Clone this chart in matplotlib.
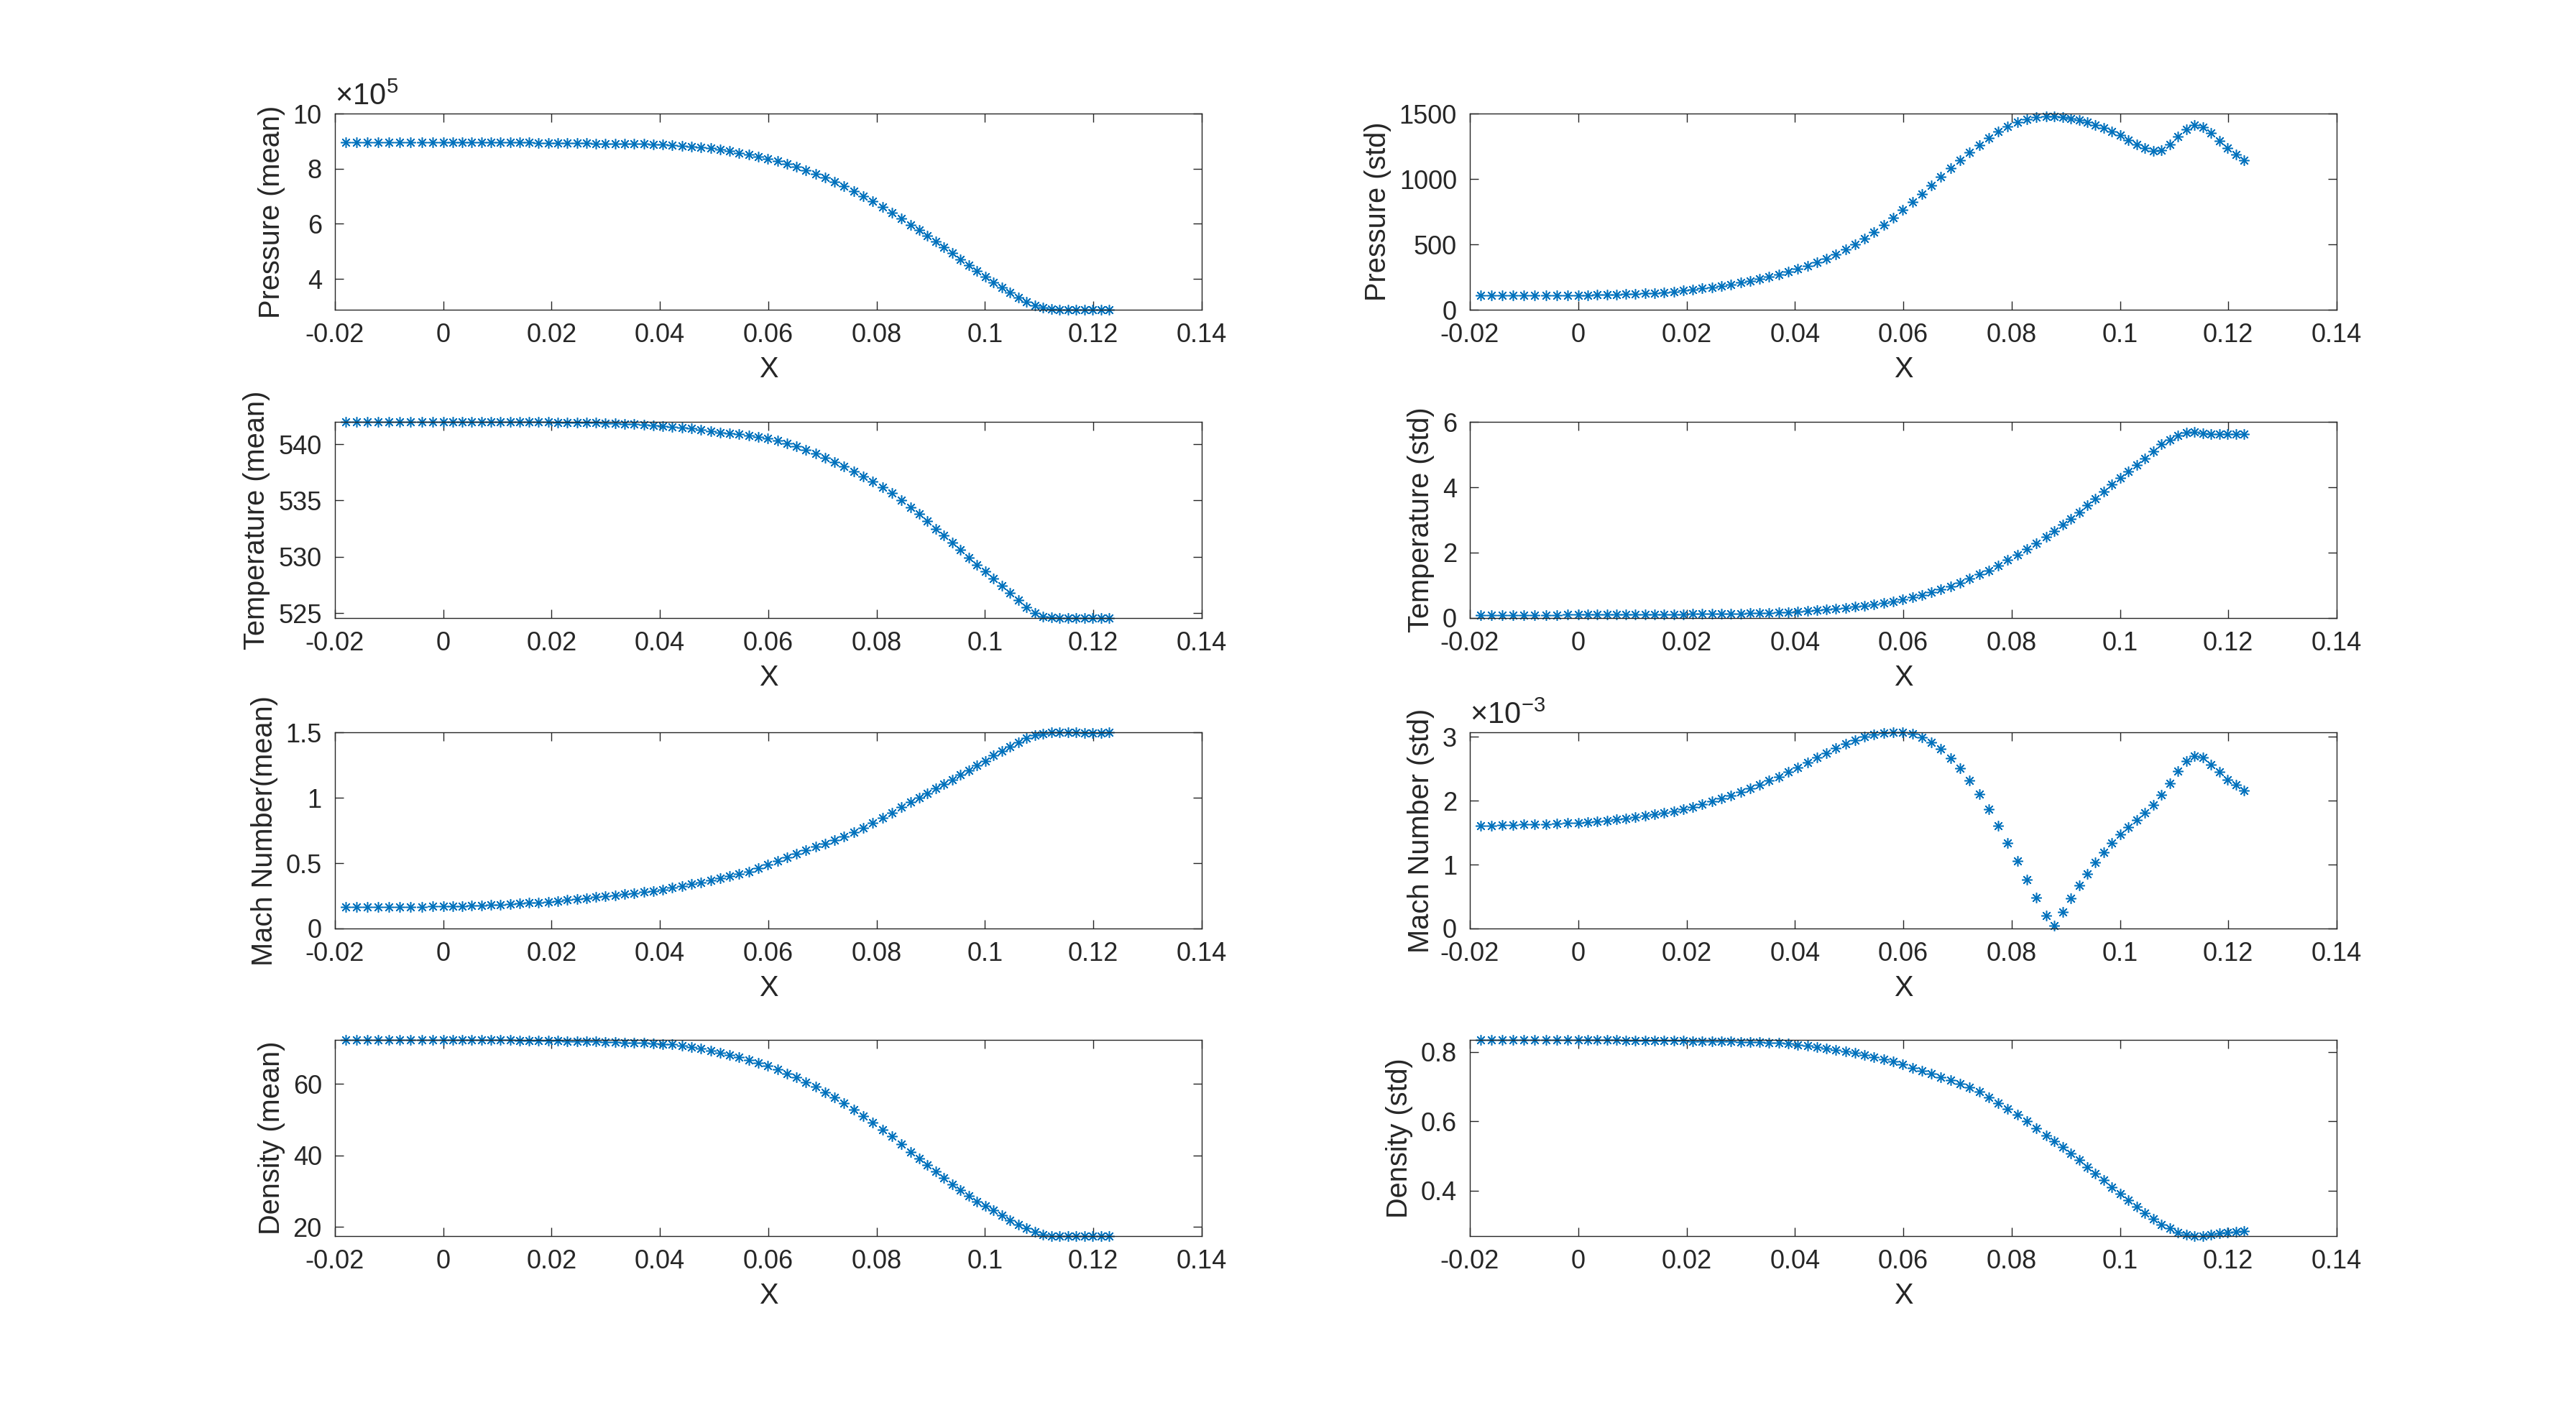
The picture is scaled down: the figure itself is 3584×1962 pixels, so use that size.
import numpy as np
import matplotlib
matplotlib.use("Agg")
import matplotlib.pyplot as plt
from matplotlib.ticker import FuncFormatter

plt.rcParams['font.family'] = ['Liberation Sans', 'DejaVu Sans']
plt.rcParams['mathtext.fontset'] = 'custom'
plt.rcParams['mathtext.rm'] = 'Liberation Sans'
plt.rcParams['mathtext.it'] = 'Liberation Sans'

# x positions of the nodes
x_nodes = [-0.018, -0.016, -0.014, -0.012, -0.010, -0.008, -0.006, -0.004, -0.002, 0.0,
           0.00176, 0.00352, 0.00528, 0.00705, 0.00881, 0.01057, 0.01233, 0.01409, 0.01586, 0.01762,
           0.01938, 0.02114, 0.02290, 0.02467, 0.02643, 0.02819, 0.02995, 0.03171, 0.03348, 0.03524,
           0.03700, 0.03876, 0.04052, 0.04229, 0.04405, 0.04581, 0.04757, 0.04933, 0.05110, 0.05286,
           0.05462, 0.05638, 0.05814, 0.05991, 0.06167, 0.06343, 0.06519, 0.06695, 0.06872, 0.07048,
           0.07224, 0.07400, 0.07576, 0.07753, 0.07929, 0.08105, 0.08281, 0.08457, 0.08634,
           0.08786, 0.08939, 0.09091, 0.09244, 0.09396, 0.09548, 0.09701, 0.09853, 0.10006, 0.10158,
           0.10311, 0.10463, 0.10615, 0.10768, 0.10920, 0.11073, 0.11225, 0.11378, 0.11530, 0.11683,
           0.11835, 0.11987, 0.12140, 0.12292]

# pressure mean, in units of 1e5
pressure_mean = [8.97, 8.97, 8.97, 8.97, 8.97, 8.97, 8.97, 8.97, 8.97, 8.97,
                 8.97, 8.97, 8.965, 8.96, 8.96, 8.955, 8.955, 8.95, 8.95, 8.945,
                 8.945, 8.94, 8.935, 8.93, 8.925, 8.92, 8.915, 8.91, 8.905, 8.90,
                 8.895, 8.89, 8.88, 8.86, 8.84, 8.81, 8.78, 8.74, 8.69, 8.64,
                 8.58, 8.51, 8.44, 8.36, 8.27, 8.17, 8.06, 7.94, 7.81, 7.67,
                 7.52, 7.36, 7.19, 7.01, 6.82, 6.62, 6.41, 6.19, 5.96,
                 5.78, 5.57, 5.36, 5.14, 4.93, 4.71, 4.50, 4.29, 4.08, 3.88,
                 3.68, 3.50, 3.33, 3.17, 3.04, 2.95, 2.90, 2.88, 2.88, 2.88,
                 2.885, 2.885, 2.89, 2.89]

pressure_std = [110, 110, 110, 110, 110, 110, 110, 110, 111, 111,
                112, 114, 115, 117, 119, 121, 125, 128, 134, 139,
                147, 154, 163, 172, 183, 195, 207, 220, 235, 251,
                270, 290, 312, 336, 361, 390, 424, 460, 500, 546,
                596, 650, 705, 762, 822, 885, 950, 1016, 1082, 1145,
                1205, 1260, 1313, 1362, 1403, 1436, 1458, 1472, 1478,
                1478, 1472, 1463, 1450, 1436, 1414, 1390, 1362, 1335, 1298,
                1267, 1238, 1216, 1220, 1267, 1326, 1381, 1414, 1399, 1353,
                1293, 1238, 1188, 1146]

temperature_mean = [541.98, 541.98, 541.98, 541.98, 541.98, 541.98, 541.98, 541.98, 541.98, 541.98,
                    541.98, 541.98, 541.98, 541.98, 541.98, 541.98, 541.97, 541.97, 541.97, 541.97,
                    541.96, 541.95, 541.94, 541.93, 541.91, 541.89, 541.87, 541.84, 541.81, 541.77,
                    541.73, 541.68, 541.62, 541.55, 541.47, 541.38, 541.28, 541.17, 541.05, 540.95,
                    540.92, 540.80, 540.66, 540.50, 540.31, 540.08, 539.80, 539.50, 539.15, 538.80,
                    538.42, 538.02, 537.60, 537.15, 536.68, 536.18, 535.65, 535.05, 534.42,
                    533.80, 533.15, 532.50, 531.90, 531.25, 530.60, 529.95, 529.30, 528.70, 528.10,
                    527.45, 526.80, 526.15, 525.50, 525.02, 524.72, 524.60, 524.57, 524.57, 524.58,
                    524.58, 524.58, 524.59, 524.59]

temperature_std = [0.090, 0.091, 0.092, 0.093, 0.094, 0.095, 0.096, 0.097, 0.098, 0.100,
                   0.101, 0.102, 0.103, 0.104, 0.106, 0.107, 0.109, 0.111, 0.113, 0.115,
                   0.117, 0.120, 0.123, 0.126, 0.130, 0.134, 0.139, 0.145, 0.152, 0.160,
                   0.170, 0.181, 0.195, 0.212, 0.232, 0.255, 0.281, 0.310, 0.342, 0.378,
                   0.418, 0.462, 0.515, 0.575, 0.640, 0.705, 0.785, 0.875, 0.965, 1.080,
                   1.200, 1.330, 1.460, 1.600, 1.770, 1.940, 2.100, 2.290, 2.480,
                   2.660, 2.850, 3.040, 3.240, 3.440, 3.640, 3.860, 4.080, 4.280, 4.480,
                   4.680, 4.890, 5.110, 5.310, 5.460, 5.590, 5.660, 5.690, 5.650, 5.620,
                   5.620, 5.620, 5.620, 5.620]

mach_mean = [0.165, 0.165, 0.165, 0.166, 0.166, 0.166, 0.167, 0.167, 0.168, 0.168,
             0.170, 0.172, 0.174, 0.176, 0.179, 0.183, 0.187, 0.191, 0.195, 0.200,
             0.205, 0.211, 0.218, 0.225, 0.232, 0.239, 0.247, 0.255, 0.263, 0.271,
             0.279, 0.288, 0.297, 0.311, 0.325, 0.339, 0.354, 0.369, 0.385, 0.401,
             0.417, 0.436, 0.459, 0.487, 0.515, 0.543, 0.571, 0.598, 0.624, 0.650,
             0.677, 0.705, 0.736, 0.771, 0.809, 0.848, 0.887, 0.926, 0.966,
             1.000, 1.035, 1.070, 1.105, 1.140, 1.175, 1.210, 1.245, 1.283, 1.322,
             1.356, 1.390, 1.425, 1.455, 1.476, 1.492, 1.499, 1.500, 1.499, 1.498,
             1.497, 1.496, 1.497, 1.498]

# mach std, in units of 1e-3
mach_std = [1.609, 1.610, 1.615, 1.620, 1.625, 1.630, 1.635, 1.642, 1.648, 1.654,
            1.663, 1.676, 1.690, 1.705, 1.722, 1.740, 1.760, 1.783, 1.808, 1.836,
            1.868, 1.904, 1.945, 1.988, 2.035, 2.085, 2.137, 2.192, 2.250, 2.312,
            2.377, 2.447, 2.520, 2.595, 2.670, 2.745, 2.818, 2.888, 2.948, 2.998,
            3.036, 3.060, 3.068, 3.064, 3.042, 2.989, 2.914, 2.805, 2.669, 2.511,
            2.312, 2.098, 1.865, 1.609, 1.335, 1.056, 0.763, 0.481, 0.199,
            0.041, 0.256, 0.474, 0.669, 0.850, 1.034, 1.188, 1.335, 1.470, 1.583,
            1.695, 1.808, 1.936, 2.090, 2.274, 2.466, 2.624, 2.699, 2.673, 2.568,
            2.447, 2.323, 2.248, 2.162]

density_mean = [72.3, 72.3, 72.3, 72.3, 72.3, 72.3, 72.3, 72.3, 72.3, 72.3,
                72.3, 72.3, 72.3, 72.29, 72.28, 72.27, 72.25, 72.22, 72.19, 72.15,
                72.11, 72.06, 72.01, 71.96, 71.90, 71.84, 71.77, 71.70, 71.62, 71.54,
                71.45, 71.35, 71.22, 71.05, 70.78, 70.40, 69.95, 69.40, 68.80, 68.20,
                67.50, 66.75, 65.90, 65.00, 64.00, 62.95, 61.80, 60.55, 59.20, 57.75,
                56.20, 54.55, 52.85, 51.10, 49.25, 47.30, 45.30, 43.15, 41.00,
                39.10, 37.30, 35.50, 33.70, 32.00, 30.30, 28.70, 27.20, 25.90, 24.60,
                23.20, 21.90, 20.70, 19.60, 18.60, 17.90, 17.55, 17.45, 17.44, 17.45,
                17.45, 17.46, 17.46, 17.47]

density_std = [0.8348, 0.8348, 0.8348, 0.8348, 0.8348, 0.8348, 0.8348, 0.8348, 0.8348, 0.8348,
               0.8347, 0.8346, 0.8345, 0.8343, 0.8340, 0.8338, 0.8335, 0.8333, 0.8330, 0.8328,
               0.8325, 0.8320, 0.8315, 0.8310, 0.8305, 0.8300, 0.8290, 0.8285, 0.8280, 0.8270,
               0.826, 0.824, 0.821, 0.819, 0.815, 0.811, 0.807, 0.802, 0.797, 0.792,
               0.786, 0.780, 0.773, 0.764, 0.755, 0.747, 0.738, 0.728, 0.719, 0.709,
               0.698, 0.685, 0.669, 0.653, 0.636, 0.620, 0.601, 0.580, 0.560,
               0.543, 0.527, 0.508, 0.488, 0.468, 0.449, 0.430, 0.411, 0.392, 0.372,
               0.354, 0.336, 0.319, 0.303, 0.291, 0.280, 0.273, 0.270, 0.269, 0.274,
               0.278, 0.280, 0.282, 0.283]

x_ticks = [-0.02, 0, 0.02, 0.04, 0.06, 0.08, 0.1, 0.12, 0.14]

blue = '#0072BD'
dark = '#262626'

fig = plt.figure(figsize=(35.84, 19.62), dpi=100)

lefts = [0.1300, 0.5706]
bottoms = [0.7803, 0.5617, 0.3415, 0.1233]
w, h = 0.3365, 0.1391

panels = [
    # (row, col, data, ylabel, yticks, ylim, scale text)
    (0, 0, pressure_mean, 'Pressure (mean)', [4, 6, 8, 10], (min(pressure_mean), 10), r'$\times10^{5}$'),
    (0, 1, pressure_std, 'Pressure (std)', [0, 500, 1000, 1500], (0, 1500), None),
    (1, 0, temperature_mean, 'Temperature (mean)', [525, 530, 535, 540],
     (min(temperature_mean), max(temperature_mean)), None),
    (1, 1, temperature_std, 'Temperature (std)', [0, 2, 4, 6], (0, 6), None),
    (2, 0, mach_mean, 'Mach Number(mean)', [0, 0.5, 1, 1.5], (0, 1.5), None),
    (2, 1, mach_std, 'Mach Number (std)', [0, 1, 2, 3], (0, max(mach_std)), r'$\times10^{-3}$'),
    (3, 0, density_mean, 'Density (mean)', [20, 40, 60], (min(density_mean), max(density_mean)), None),
    (3, 1, density_std, 'Density (std)', [0.4, 0.6, 0.8], (min(density_std), max(density_std)), None),
]

fmt = FuncFormatter(lambda v, p: '%g' % round(v, 6))

for row, col, yvals, ylab, yt, ylim, sc in panels:
    ax = fig.add_axes([lefts[col], bottoms[row], w, h])
    ax.plot(x_nodes, yvals, linestyle='none', marker=(8, 2, 0), markersize=10.5,
            markeredgewidth=1.1, color=blue, clip_on=False)
    ax.set_xlim(-0.02, 0.14)
    ax.set_xticks(x_ticks)
    ax.set_ylim(*ylim)
    ax.set_yticks(yt)
    ax.xaxis.set_major_formatter(fmt)
    ax.yaxis.set_major_formatter(fmt)
    ax.tick_params(direction='in', length=8.5, width=1.0, top=True, right=True,
                   labelsize=26, pad=13, colors=dark)
    for s in ax.spines.values():
        s.set_color(dark)
        s.set_linewidth(1.0)
    ax.set_xlabel('X', fontsize=28.6, color=dark, labelpad=8)
    ax.set_ylabel(ylab, fontsize=28.6, color=dark, labelpad=8)
    if sc:
        ax.text(0, 1.01, sc, transform=ax.transAxes, ha='left', va='bottom',
                fontsize=30, color=dark)

fig.savefig('out.png', dpi=100, facecolor='white')
